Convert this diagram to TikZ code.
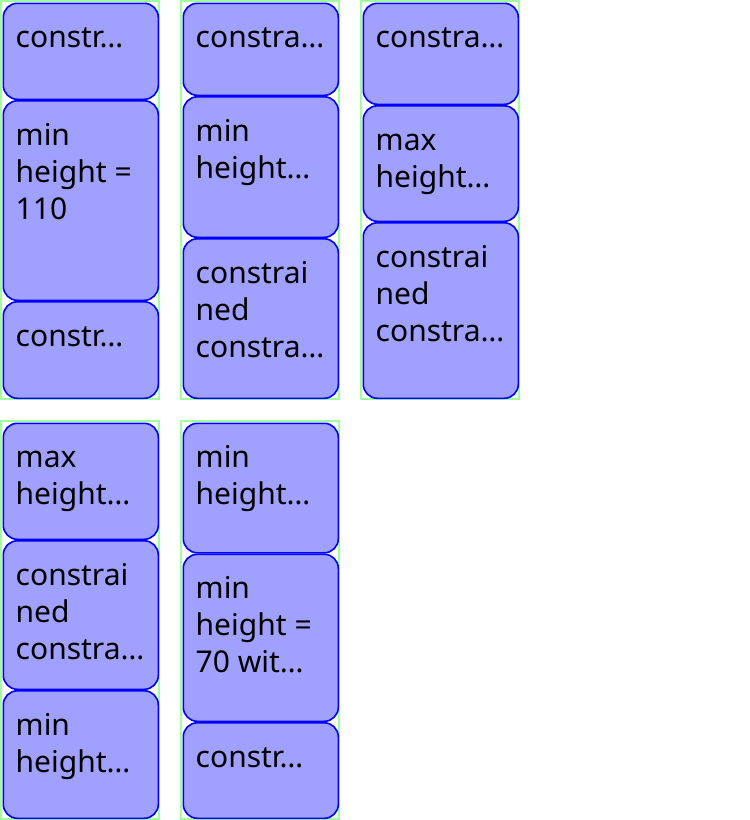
\documentclass[tikz,border=0pt]{standalone}
\usepackage{fontspec}
\setmainfont{Noto Sans}
\usepackage{tikz}
\usetikzlibrary{positioning}
\definecolor{cellFill}{RGB}{160,160,255}
\definecolor{cellEdge}{RGB}{0,0,255}
\definecolor{colFrame}{RGB}{160,255,160}

% one box of a column: name, left x, top y, bottom y, text
\newcommand{\cell}[5]{%
  \node[cellbox, minimum height={(#4-#3)*1pt}] (#1) at (#2+2.5,#3) {};
  \node[celltext] (#1t) at (#2+15.5,#3+15) {\rule{0pt}{30pt}#5};
}

\begin{document}
\begin{tikzpicture}[x=1pt, y=-1pt,
    cellbox/.style={draw=cellEdge, fill=cellFill, line width=1.6pt, rounded corners=14pt,
      anchor=north west, inner sep=0pt, minimum width=155pt},
    celltext/.style={anchor=north west, inner sep=0pt, align=left,
      font=\fontsize{30}{37}\selectfont},
    colframe/.style={draw=colFrame, line width=2pt}]
  \useasboundingbox (0,0) rectangle (750,820);
  % column frames
  \draw[colframe] (1,1) rectangle (159,399);
  \draw[colframe] (181,1) rectangle (339,399);
  \draw[colframe] (361,1) rectangle (519,399);
  \draw[colframe] (1,421) rectangle (159,819);
  \draw[colframe] (181,421) rectangle (339,819);
  % first column
  \cell{a1}{0}{2.5}{98.5}{constr…}
  \cell{a2}{0}{100}{299.5}{min\\height =\\110}
  \cell{a3}{0}{301}{397.5}{constr…}
  % second column
  \cell{b1}{180}{2.5}{94.5}{constra…}
  \cell{b2}{180}{96}{236.5}{min\\height…}
  \cell{b3}{180}{238}{397.5}{constrai\\ned\\constra…}
  % third column
  \cell{c1}{360}{2.5}{103.5}{constra…}
  \cell{c2}{360}{105}{220.5}{max\\height…}
  \cell{c3}{360}{222}{397.5}{constrai\\ned\\constra…}
  % fourth column
  \cell{d1}{0}{422.5}{538.5}{max\\height…}
  \cell{d2}{0}{540}{688.5}{constrai\\ned\\constra…}
  \cell{d3}{0}{690}{817.5}{min\\height…}
  % fifth column
  \cell{e1}{180}{422.5}{552}{min\\height…}
  \cell{e2}{180}{553.5}{720.5}{min\\height =\\70 wit…}
  \cell{e3}{180}{722}{817.5}{constr…}
\end{tikzpicture}
\end{document}
